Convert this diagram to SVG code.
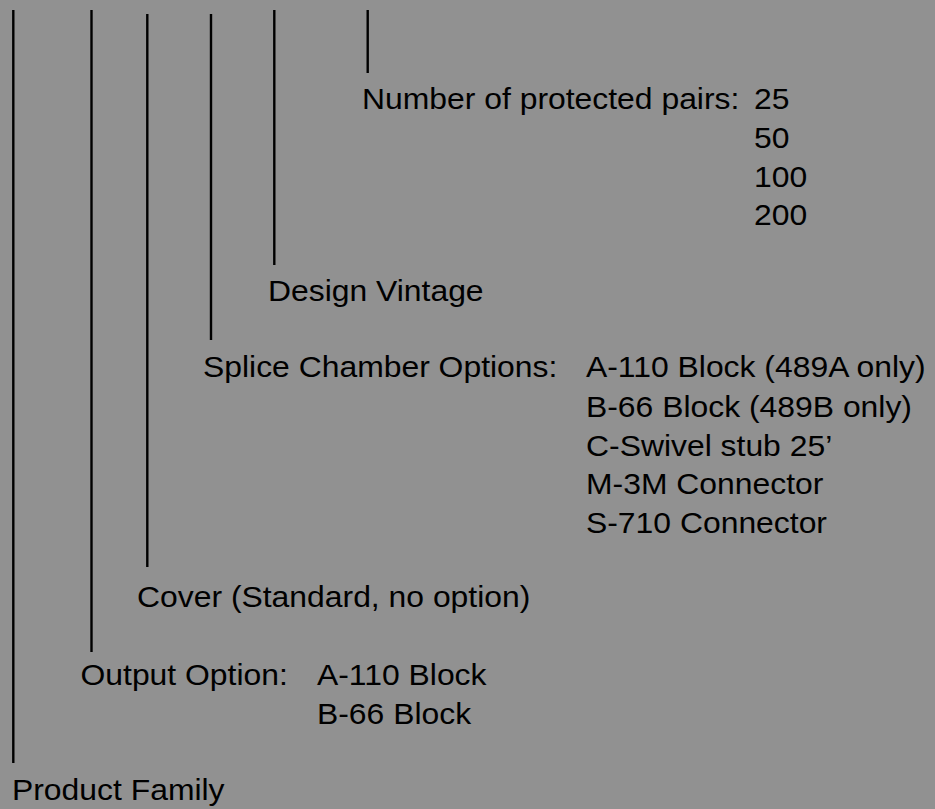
<svg xmlns="http://www.w3.org/2000/svg" width="935" height="809" viewBox="0 0 935 809">
  <style>
    .t { font-family: "Liberation Sans", Arial, sans-serif; font-size: 29.5px; fill: #000; }
    .c { stroke: #000; stroke-width: 2.4; fill: none; }
  </style>
  <rect x="0" y="0" width="935" height="809" fill="#919191"/>
  <g id="connectors">
    <line class="c" x1="13.3" y1="10" x2="13.3" y2="763"/>
    <line class="c" x1="91.5" y1="10" x2="91.5" y2="652"/>
    <line class="c" x1="147.3" y1="14" x2="147.3" y2="567"/>
    <line class="c" x1="211" y1="14" x2="211" y2="340"/>
    <line class="c" x1="274.3" y1="10" x2="274.3" y2="265"/>
    <line class="c" x1="367.7" y1="10" x2="367.7" y2="73"/>
  </g>
  <g id="pairs">
    <text class="t" transform="matrix(1.081 0 0 1 362 108.5)">Number of protected pairs:</text>
    <text class="t" transform="matrix(1.081 0 0 1 754 108.5)">25</text>
    <text class="t" transform="matrix(1.081 0 0 1 754 147.5)">50</text>
    <text class="t" transform="matrix(1.081 0 0 1 754 186.5)">100</text>
    <text class="t" transform="matrix(1.081 0 0 1 754 225)">200</text>
  </g>
  <g id="vintage">
    <text class="t" transform="matrix(1.081 0 0 1 268 301)">Design Vintage</text>
  </g>
  <g id="splice">
    <text class="t" transform="matrix(1.081 0 0 1 203 377)">Splice Chamber Options:</text>
    <text class="t" transform="matrix(1.081 0 0 1 586 377)">A-110 Block (489A only)</text>
    <text class="t" transform="matrix(1.081 0 0 1 586 416.5)">B-66 Block (489B only)</text>
    <text class="t" transform="matrix(1.081 0 0 1 586 456)">C-Swivel stub 25’</text>
    <text class="t" transform="matrix(1.081 0 0 1 586 494)">M-3M Connector</text>
    <text class="t" transform="matrix(1.081 0 0 1 586 532.5)">S-710 Connector</text>
  </g>
  <g id="cover">
    <text class="t" transform="matrix(1.081 0 0 1 137 607)">Cover (Standard, no option)</text>
  </g>
  <g id="output">
    <text class="t" transform="matrix(1.081 0 0 1 80.5 685)">Output Option:</text>
    <text class="t" transform="matrix(1.081 0 0 1 317 685)">A-110 Block</text>
    <text class="t" transform="matrix(1.081 0 0 1 317 724)">B-66 Block</text>
  </g>
  <g id="family">
    <text class="t" transform="matrix(1.081 0 0 1 12 800)">Product Family</text>
  </g>
</svg>
